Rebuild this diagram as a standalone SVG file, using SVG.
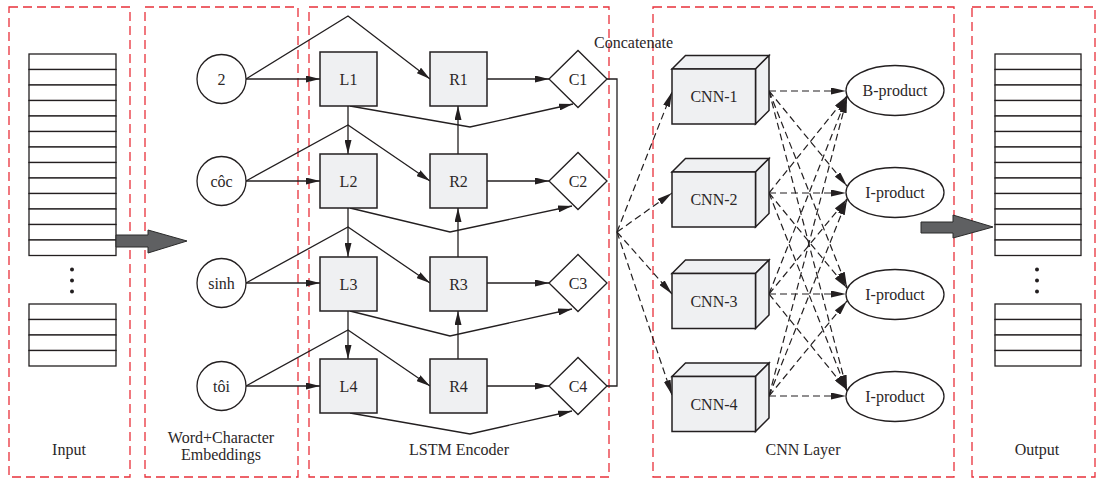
<svg xmlns="http://www.w3.org/2000/svg" width="1098" height="478" viewBox="0 0 1098 478">
  <defs>
    <marker id="arr" viewBox="0 0 14 7" refX="14" refY="3.5" markerWidth="14" markerHeight="7" markerUnits="userSpaceOnUse" orient="auto">
      <path d="M0,0 L14,3.5 L0,7 z" fill="#231f20"/>
    </marker>
    <marker id="arrd" viewBox="0 0 15 7" refX="15" refY="3.5" markerWidth="15" markerHeight="7" markerUnits="userSpaceOnUse" orient="auto">
      <path d="M0,0 L15,3.5 L0,7 z" fill="#231f20"/>
    </marker>
  </defs>
  <style>
    text { font-family: "Liberation Serif", "Times New Roman", serif; font-size: 16px; fill: #2b2728; text-anchor: middle; }
    .panel { fill: none; stroke: #e8303a; stroke-width: 1.3; stroke-dasharray: 9 5; }
    .cell { fill: #ffffff; stroke: #231f20; stroke-width: 1.3; }
    .box { fill: #eff0f2; stroke: #231f20; stroke-width: 1.5; }
    .node { fill: #ffffff; stroke: #231f20; stroke-width: 1.3; }
    .line { fill: none; stroke: #231f20; stroke-width: 1.3; }
    .arrow { fill: none; stroke: #231f20; stroke-width: 1.3; marker-end: url(#arr); }
    .dash { fill: none; stroke: #231f20; stroke-width: 1.2; stroke-dasharray: 7 4; marker-end: url(#arrd); }
    .big { fill: #5f6062; stroke: #2a2a2a; stroke-width: 1; }
    .dot { fill: #231f20; }
  </style>

  <rect width="1098" height="478" fill="#ffffff"/>

  <!-- stage panels -->
  <g id="panels">
    <rect class="panel" x="9" y="7" width="121" height="470"/>
    <rect class="panel" x="145" y="7" width="153" height="470"/>
    <rect class="panel" x="309" y="7" width="300" height="470"/>
    <rect class="panel" x="653" y="7" width="301" height="470"/>
    <rect class="panel" x="972" y="7" width="123" height="470"/>
    <text x="69" y="455">Input</text>
    <text x="221" y="443">Word+Character</text>
    <text x="221" y="460">Embeddings</text>
    <text x="459" y="455">LSTM Encoder</text>
    <text x="803" y="455">CNN Layer</text>
    <text x="1037" y="455">Output</text>
    <text x="594" y="48" style="text-anchor:start">Concatenate</text>
  </g>

  <!-- input sequence -->
  <g id="input">
    <rect class="cell" x="29" y="54" width="87" height="15.5"/>
    <rect class="cell" x="29" y="69.5" width="87" height="15.5"/>
    <rect class="cell" x="29" y="85" width="87" height="15.5"/>
    <rect class="cell" x="29" y="100.5" width="87" height="15.5"/>
    <rect class="cell" x="29" y="116" width="87" height="15.5"/>
    <rect class="cell" x="29" y="131.5" width="87" height="15.5"/>
    <rect class="cell" x="29" y="147" width="87" height="15.5"/>
    <rect class="cell" x="29" y="162.5" width="87" height="15.5"/>
    <rect class="cell" x="29" y="178" width="87" height="15.5"/>
    <rect class="cell" x="29" y="193.5" width="87" height="15.5"/>
    <rect class="cell" x="29" y="209" width="87" height="15.5"/>
    <rect class="cell" x="29" y="224.5" width="87" height="15.5"/>
    <rect class="cell" x="29" y="240" width="87" height="15.5"/>
    <circle class="dot" cx="72" cy="269.5" r="2"/>
    <circle class="dot" cx="72" cy="280.5" r="2"/>
    <circle class="dot" cx="72" cy="291.5" r="2"/>
    <rect class="cell" x="29" y="304" width="87" height="15.5"/>
    <rect class="cell" x="29" y="319.5" width="87" height="15.5"/>
    <rect class="cell" x="29" y="335" width="87" height="15.5"/>
    <rect class="cell" x="29" y="350.5" width="87" height="15.5"/>
  </g>

  <!-- output sequence -->
  <g id="output">
    <rect class="cell" x="995" y="54" width="86" height="15.5"/>
    <rect class="cell" x="995" y="69.5" width="86" height="15.5"/>
    <rect class="cell" x="995" y="85" width="86" height="15.5"/>
    <rect class="cell" x="995" y="100.5" width="86" height="15.5"/>
    <rect class="cell" x="995" y="116" width="86" height="15.5"/>
    <rect class="cell" x="995" y="131.5" width="86" height="15.5"/>
    <rect class="cell" x="995" y="147" width="86" height="15.5"/>
    <rect class="cell" x="995" y="162.5" width="86" height="15.5"/>
    <rect class="cell" x="995" y="178" width="86" height="15.5"/>
    <rect class="cell" x="995" y="193.5" width="86" height="15.5"/>
    <rect class="cell" x="995" y="209" width="86" height="15.5"/>
    <rect class="cell" x="995" y="224.5" width="86" height="15.5"/>
    <rect class="cell" x="995" y="240" width="86" height="15.5"/>
    <circle class="dot" cx="1037" cy="269.5" r="2"/>
    <circle class="dot" cx="1037" cy="280.5" r="2"/>
    <circle class="dot" cx="1037" cy="291.5" r="2"/>
    <rect class="cell" x="995" y="304" width="86" height="15.5"/>
    <rect class="cell" x="995" y="319.5" width="86" height="15.5"/>
    <rect class="cell" x="995" y="335" width="86" height="15.5"/>
    <rect class="cell" x="995" y="350.5" width="86" height="15.5"/>
  </g>

  <!-- connectors -->
  <g id="connectors">
    <!-- block arrows between stages -->
    <polygon class="big" points="116,235 148,235 148,230 187,241 148,253 148,247 116,247"/>
    <polygon class="big" points="921,222 953,222 953,215 993,227 953,238 953,233 921,233"/>

    <!-- embeddings into forward LSTM -->
    <line class="arrow" x1="246" y1="79" x2="320" y2="79"/>
    <line class="arrow" x1="246" y1="181" x2="320" y2="181"/>
    <line class="arrow" x1="246" y1="283" x2="320" y2="283"/>
    <line class="arrow" x1="246" y1="386" x2="320" y2="386"/>

    <!-- embeddings into backward LSTM -->
    <polyline class="arrow" points="246,79 348,16 430,79"/>
    <polyline class="arrow" points="246,181 348,125 430,181"/>
    <polyline class="arrow" points="246,283 348,227 430,283"/>
    <polyline class="arrow" points="246,386 348,330 430,386"/>

    <!-- forward chain -->
    <line class="arrow" x1="348" y1="106" x2="348" y2="154"/>
    <line class="arrow" x1="348" y1="208" x2="348" y2="257"/>
    <line class="arrow" x1="348" y1="311" x2="348" y2="359"/>

    <!-- backward chain -->
    <line class="arrow" x1="458" y1="154" x2="458" y2="106"/>
    <line class="arrow" x1="458" y1="257" x2="458" y2="208"/>
    <line class="arrow" x1="458" y1="359" x2="458" y2="311"/>

    <!-- backward states into concat -->
    <line class="arrow" x1="487" y1="79" x2="549" y2="79"/>
    <line class="arrow" x1="487" y1="181" x2="549" y2="181"/>
    <line class="arrow" x1="487" y1="283" x2="549" y2="283"/>
    <line class="arrow" x1="487" y1="386" x2="549" y2="386"/>

    <!-- forward states into concat -->
    <polyline class="arrow" points="350,106 470,127 573,104"/>
    <polyline class="arrow" points="350,208 450,232 572,206"/>
    <polyline class="arrow" points="350,311 450,336 572,309"/>
    <polyline class="arrow" points="350,413 470,434 572,411"/>

    <!-- concatenation bus -->
    <polyline class="line" points="607,79 617,79 617,386 607,386"/>

    <!-- bus to CNNs -->
    <line class="dash" x1="617" y1="232" x2="672" y2="92"/>
    <line class="dash" x1="617" y1="232" x2="672" y2="193"/>
    <line class="dash" x1="617" y1="232" x2="672" y2="294"/>
    <line class="dash" x1="617" y1="232" x2="672" y2="395"/>

    <!-- CNN-1 to labels -->
    <line class="dash" x1="769" y1="91" x2="846" y2="91"/>
    <line class="dash" x1="769" y1="91" x2="847" y2="186"/>
    <line class="dash" x1="769" y1="91" x2="847" y2="287"/>
    <line class="dash" x1="769" y1="91" x2="847" y2="390"/>
    <!-- CNN-2 to labels -->
    <line class="dash" x1="769" y1="193" x2="847" y2="96"/>
    <line class="dash" x1="769" y1="193" x2="846" y2="193"/>
    <line class="dash" x1="769" y1="193" x2="847" y2="288"/>
    <line class="dash" x1="769" y1="193" x2="847" y2="391"/>
    <!-- CNN-3 to labels -->
    <line class="dash" x1="769" y1="294" x2="847" y2="97"/>
    <line class="dash" x1="769" y1="294" x2="847" y2="199"/>
    <line class="dash" x1="769" y1="294" x2="846" y2="294"/>
    <line class="dash" x1="769" y1="294" x2="847" y2="390"/>
    <!-- CNN-4 to labels -->
    <line class="dash" x1="769" y1="396" x2="847" y2="98"/>
    <line class="dash" x1="769" y1="396" x2="847" y2="200"/>
    <line class="dash" x1="769" y1="396" x2="847" y2="301"/>
    <line class="dash" x1="769" y1="396" x2="846" y2="396"/>
  </g>

  <!-- embedding nodes -->
  <g id="emb-2"><circle class="node" cx="221.5" cy="79" r="24.5"/><text x="221.5" y="84.5">2</text></g>
  <g id="emb-coc"><circle class="node" cx="221.5" cy="181" r="24.5"/><text x="221.5" y="186.5">côc</text></g>
  <g id="emb-sinh"><circle class="node" cx="221.5" cy="283" r="24.5"/><text x="221.5" y="288.5">sinh</text></g>
  <g id="emb-toi"><circle class="node" cx="221.5" cy="386" r="24.5"/><text x="221.5" y="391.5">tôi</text></g>

  <!-- forward LSTM cells -->
  <g id="L1"><rect class="box" x="320" y="52" width="57" height="54"/><text x="348.5" y="84.5">L1</text></g>
  <g id="L2"><rect class="box" x="320" y="154" width="57" height="54"/><text x="348.5" y="186.5">L2</text></g>
  <g id="L3"><rect class="box" x="320" y="257" width="57" height="54"/><text x="348.5" y="289.5">L3</text></g>
  <g id="L4"><rect class="box" x="320" y="359" width="57" height="54"/><text x="348.5" y="391.5">L4</text></g>

  <!-- backward LSTM cells -->
  <g id="R1"><rect class="box" x="430" y="52" width="57" height="54"/><text x="458.5" y="84.5">R1</text></g>
  <g id="R2"><rect class="box" x="430" y="154" width="57" height="54"/><text x="458.5" y="186.5">R2</text></g>
  <g id="R3"><rect class="box" x="430" y="257" width="57" height="54"/><text x="458.5" y="289.5">R3</text></g>
  <g id="R4"><rect class="box" x="430" y="359" width="57" height="54"/><text x="458.5" y="391.5">R4</text></g>

  <!-- concatenation nodes -->
  <g id="C1"><polygon class="node" points="549,79 578,50.5 607,79 578,107.5"/><text x="578" y="84.5">C1</text></g>
  <g id="C2"><polygon class="node" points="549,181 578,152.5 607,181 578,209.5"/><text x="578" y="186.5">C2</text></g>
  <g id="C3"><polygon class="node" points="549,283 578,254.5 607,283 578,311.5"/><text x="578" y="288.5">C3</text></g>
  <g id="C4"><polygon class="node" points="549,386 578,357.5 607,386 578,414.5"/><text x="578" y="391.5">C4</text></g>

  <!-- CNN blocks -->
  <g id="CNN-1">
    <polygon class="box" points="672,69 685.5,55.5 769,55.5 755.5,69"/>
    <polygon class="box" points="755.5,69 769,55.5 769,110.5 755.5,124"/>
    <rect class="box" x="672" y="69" width="83.5" height="55"/>
    <text x="714" y="102">CNN-1</text>
  </g>
  <g id="CNN-2">
    <polygon class="box" points="672,172 685.5,158.5 769,158.5 755.5,172"/>
    <polygon class="box" points="755.5,172 769,158.5 769,213.5 755.5,227"/>
    <rect class="box" x="672" y="172" width="83.5" height="55"/>
    <text x="714" y="205">CNN-2</text>
  </g>
  <g id="CNN-3">
    <polygon class="box" points="672,273.5 685.5,260 769,260 755.5,273.5"/>
    <polygon class="box" points="755.5,273.5 769,260 769,315 755.5,328.5"/>
    <rect class="box" x="672" y="273.5" width="83.5" height="55"/>
    <text x="714" y="306.5">CNN-3</text>
  </g>
  <g id="CNN-4">
    <polygon class="box" points="672,376.5 685.5,363 769,363 755.5,376.5"/>
    <polygon class="box" points="755.5,376.5 769,363 769,418 755.5,431.5"/>
    <rect class="box" x="672" y="376.5" width="83.5" height="55"/>
    <text x="714" y="409.5">CNN-4</text>
  </g>

  <!-- tag outputs -->
  <g id="B-product"><ellipse class="node" cx="895" cy="90.5" rx="49" ry="25"/><text x="895" y="96">B-product</text></g>
  <g id="I-product-1"><ellipse class="node" cx="895" cy="192.5" rx="49" ry="25"/><text x="895" y="198">I-product</text></g>
  <g id="I-product-2"><ellipse class="node" cx="895" cy="294.5" rx="49" ry="25"/><text x="895" y="300">I-product</text></g>
  <g id="I-product-3"><ellipse class="node" cx="895" cy="396.5" rx="49" ry="25"/><text x="895" y="402">I-product</text></g>
</svg>
